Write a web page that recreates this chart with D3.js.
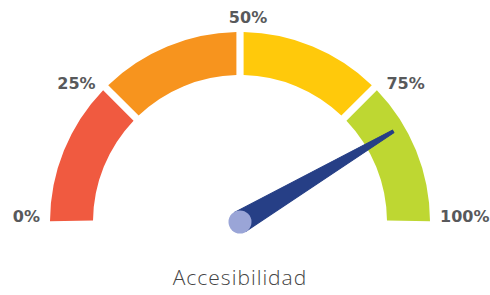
<!DOCTYPE html>
<html>
<head>
<meta charset="utf-8">
<script src="https://cdn.jsdelivr.net/npm/d3@7"></script>
<style>
  body { margin: 0; background: #fff; }
</style>
</head>
<body>
<svg id="svg_gauge" width="490" height="295"></svg>
<script>
// 数据
var bands = [0, 25, 50, 75, 100];
var bandColors = ["#f05a40", "#f7941e", "#ffc90b", "#bed732"];
var tickLabels = ["0%", "25%", "50%", "75%", "100%"];
var value = 83;
var title = "Accesibilidad";

var svg = d3.select("#svg_gauge");
var cx = 240, cy = 222;
var outerR = 190, innerR = 147;

var g = svg.append("g").attr("transform", "translate(" + cx + "," + cy + ")");

// 角度比例尺：0 -> -90°, 100 -> 90°
var angle = d3.scaleLinear().domain([0, 100]).range([-Math.PI / 2, Math.PI / 2]);

var arc = d3.arc()
  .innerRadius(innerR)
  .outerRadius(outerR)
  .padAngle(0.03);

var segs = d3.pairs(bands).map(function(p, i) {
  return { startAngle: angle(p[0]), endAngle: angle(p[1]), color: bandColors[i], i: i };
});

g.append("g")
  .selectAll("path")
  .data(segs)
  .enter()
  .append("path")
  .attr("d", function(d) {
    // 两端不留空隙
    var a = Object.assign({}, d);
    var pad = 0.015;
    if (d.i === 0) a.startAngle = d.startAngle - pad;
    if (d.i === segs.length - 1) a.endAngle = d.endAngle + pad;
    return arc(a);
  })
  .attr("fill", function(d) { return d.color; });

// 刻度标签
var labelR = 200;
g.append("g")
  .selectAll("text")
  .data(bands)
  .enter()
  .append("text")
  .attr("x", function(d) { return labelR * Math.sin(angle(d)) + (d === 50 ? 8 : 0) + (d === 75 ? 5 : 0) + (d === 25 ? -3 : 0); })
  .attr("y", function(d) { return -labelR * Math.cos(angle(d)); })
  .attr("dy", function(d) { return d === 0 || d === 100 ? "0" : (d === 50 ? "0.05em" : "0.55em"); })
  .attr("text-anchor", function(d) { return d < 50 ? "end" : (d > 50 ? "start" : "middle"); })
  .attr("font-family", "'DejaVu Sans', sans-serif")
  .attr("font-weight", 700)
  .attr("font-size", "16px")
  .attr("fill", "#58595b")
  .text(function(d, i) { return tickLabels[i]; });

// 指针
var needleLen = 178, baseW = 11, tipW = 1.5;
var a = angle(value);
var needle = g.append("g").attr("transform", "rotate(" + (a * 180 / Math.PI) + ")");
needle.append("path")
  .attr("d", d3.line()([[-baseW, 0], [-tipW, -needleLen], [tipW, -needleLen], [baseW, 0]]) + "Z")
  .attr("fill", "#263f86")
  .attr("stroke", "#263f86")
  .attr("stroke-width", 1)
  .attr("stroke-linejoin", "round");

g.append("circle")
  .attr("r", 11.5)
  .attr("fill", "#9aa5d7");

// 标题
svg.append("text")
  .attr("x", cx)
  .attr("y", 285)
  .attr("text-anchor", "middle")
  .attr("font-family", "'Open Sans', sans-serif")
  .attr("font-weight", 300)
  .attr("font-size", "21px")
  .attr("letter-spacing", "1px")
  .attr("fill", "#444")
  .text(title);
</script>
</body>
</html>
